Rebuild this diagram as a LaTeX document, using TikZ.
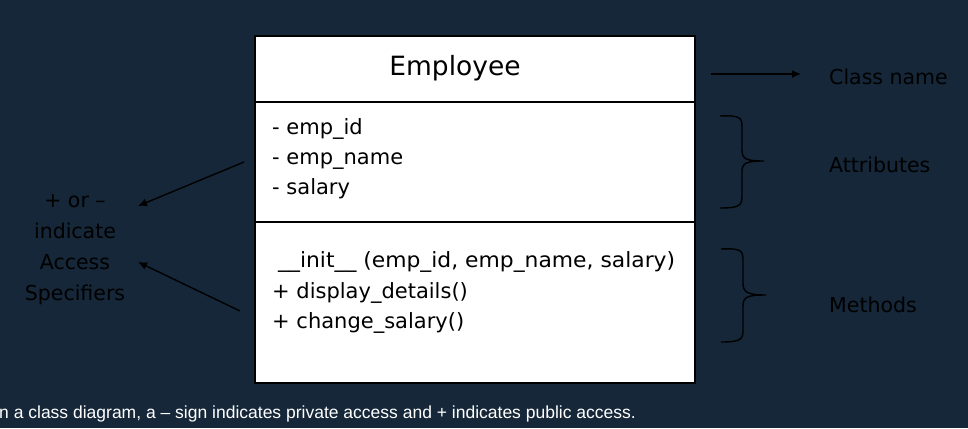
\documentclass[tikz,border=0pt]{standalone}
\usepackage{fontspec}
\setmainfont{DejaVu Sans}
\newfontfamily\capfont{Liberation Sans}
\usetikzlibrary{arrows.meta}
\definecolor{bgnavy}{RGB}{21,39,56}
\begin{document}
\begin{tikzpicture}[x=1pt,y=-1pt,
  boxtxt/.style={anchor=base west,inner sep=0pt,font=\fontsize{21}{25}\selectfont,text=black},
  sidetxt/.style={inner sep=0pt,font=\fontsize{20.5}{31}\selectfont,text=black},
  pointer/.style={line width=1.4pt,-{Latex[length=9pt,width=8pt]}},
  bracepath/.style={line width=1.4pt,black}]
\fill[bgnavy] (0,0) rectangle (968,428);
\useasboundingbox (0,0) rectangle (968,428);
% class box
\node[draw=black,fill=white,line width=1.6pt,minimum width=440pt,minimum height=347pt,inner sep=0pt,anchor=north west] (box) at (254,35) {};
\coordinate (d1l) at (254,102); \coordinate (d1r) at (694,102);
\coordinate (d2l) at (254,222); \coordinate (d2r) at (694,222);
\draw[line width=1.6pt] (d1l) -- (d1r);
\draw[line width=1.6pt] (d2l) -- (d2r);
\node[inner sep=0pt,anchor=base,font=\fontsize{26.5}{30}\selectfont] (title) at (455,75) {Employee};
\node[boxtxt] (a1) at (272,134) {- emp\_id};
\node[boxtxt] (a2) at (272,164) {- emp\_name};
\node[boxtxt] (a3) at (272,194) {- salary};
\node[boxtxt,xscale=1.04] (m1) at (278,267) {\_\_init\_\_ (emp\_id, emp\_name, salary)};
\node[boxtxt] (m2) at (272,298) {+ display\_details()};
\node[boxtxt] (m3) at (272,328) {+ change\_salary()};
% right side labels
\node[sidetxt,anchor=west] (lclass) at (829,77) {Class name};
\node[sidetxt,anchor=west] (lattr) at (829,165) {Attributes};
\node[sidetxt,anchor=west] (lmeth) at (829,305) {Methods};
% left label
\node[sidetxt,align=center,anchor=north] (lacc) at (75,194) {+ or –\\indicate\\Access\\Specifiers};
% arrows
\coordinate (c1s) at (711,74); \coordinate (c1e) at (801,74);
\draw[pointer] (c1s) -- (c1e);
\coordinate (p1s) at (244,162); \coordinate (p1e) at (138,206);
\draw[pointer] (p1s) -- (p1e);
\coordinate (p2s) at (240,311); \coordinate (p2e) at (138,262);
\draw[pointer] (p2s) -- (p2e);
% braces
\draw[bracepath] (720,116) .. controls (741,115) and (742,118) .. (742,128) -- (742,150)
  .. controls (742,159) and (746,161) .. (764,161)
  .. controls (746,161) and (742,163) .. (742,172) -- (742,195)
  .. controls (742,205) and (741,208) .. (720,208);
\draw[bracepath] (721,249) .. controls (742,248) and (743,251) .. (743,261) -- (743,283)
  .. controls (743,292) and (747,295) .. (766,295)
  .. controls (747,295) and (743,297) .. (743,306) -- (743,329)
  .. controls (743,339) and (742,342) .. (721,342);
% caption
\node[inner sep=0pt,anchor=base west,text=white,font=\capfont\fontsize{17.5}{20}\selectfont] (cap) at (-1,418) {n a class diagram, a – sign indicates private access and + indicates public access.};
\end{tikzpicture}
\end{document}
